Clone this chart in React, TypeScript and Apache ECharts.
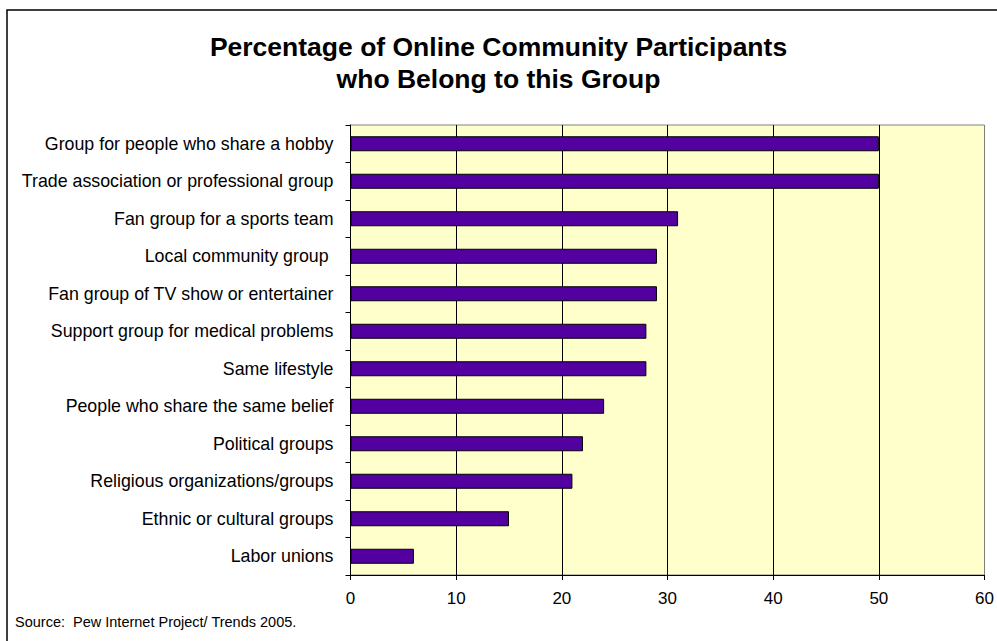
import React, { useEffect, useRef } from "react";
import * as echarts from "echarts";

const categories = [
  "Group for people who share a hobby",
  "Trade association or professional group",
  "Fan group for a sports team",
  "Local community group ",
  "Fan group of TV show or entertainer",
  "Support group for medical problems",
  "Same lifestyle",
  "People who share the same belief",
  "Political groups",
  "Religious organizations/groups",
  "Ethnic or cultural groups",
  "Labor unions",
];
const percentages = [50, 50, 31, 29, 29, 28, 28, 24, 22, 21, 15, 6];
const titleLines = [
  "Percentage of Online Community Participants",
  "who Belong to this Group",
];
const sourceNote = "Source:  Pew Internet Project/ Trends 2005.";

const FONT = "Arial, 'Liberation Sans', sans-serif";

export default function App() {
  const ref = useRef<HTMLDivElement>(null);
  useEffect(() => {
    if (!ref.current) return;
    const chart = echarts.init(ref.current, null, { renderer: "svg" });
    chart.setOption({
      animation: false,
      backgroundColor: "#ffffff",
      title: {
        text: titleLines.join("\n"),
        left: "center",
        top: 26,
        textStyle: {
          fontFamily: FONT,
          fontSize: 26.5,
          fontWeight: "bold",
          color: "#000",
          lineHeight: 32,
        },
      },
      graphic: [
        {
          type: "rect",
          shape: { x: 7, y: 10, width: 1100, height: 800 },
          style: { fill: "none", stroke: "#000", lineWidth: 1.5 },
          silent: true,
          z: 100,
        },
        {
          type: "text",
          left: 15,
          top: 614,
          style: { text: sourceNote, fontFamily: FONT, fontSize: 14.5, fill: "#000" },
        },
      ],
      grid: {
        left: 350.5,
        right: 11,
        top: 125,
        bottom: 66,
        show: true,
        backgroundColor: "#FFFFCC",
        borderColor: "#808080",
        borderWidth: 1,
      },
      xAxis: {
        type: "value",
        min: 0,
        max: 60,
        interval: 10,
        axisLine: { show: true, lineStyle: { color: "#000", width: 1 } },
        axisTick: { show: true, length: 5, lineStyle: { color: "#000" } },
        axisLabel: { fontFamily: FONT, fontSize: 17, color: "#000", margin: 15 },
        splitLine: {
          show: true,
          lineStyle: {
            color: ["#000", "#000", "#000", "#000", "#000", "#000", "#808080"],
            width: 1,
          },
        },
      },
      yAxis: {
        type: "category",
        data: categories,
        inverse: true,
        axisLine: { show: true, lineStyle: { color: "#000", width: 1 } },
        axisTick: { show: true, length: 5, lineStyle: { color: "#000" } },
        axisLabel: { fontFamily: FONT, fontSize: 17.8, color: "#000", margin: 17 },
        splitLine: { show: false },
      },
      series: [
        {
          type: "bar",
          data: percentages,
          barCategoryGap: "60%",
          itemStyle: { color: "#5200A0", borderColor: "#000", borderWidth: 1 },
        },
      ],
    });
    return () => chart.dispose();
  }, []);
  return (
    <div
      ref={ref}
      style={{ position: "fixed", left: 0, top: 0, width: 997, height: 641 }}
    />
  );
}
